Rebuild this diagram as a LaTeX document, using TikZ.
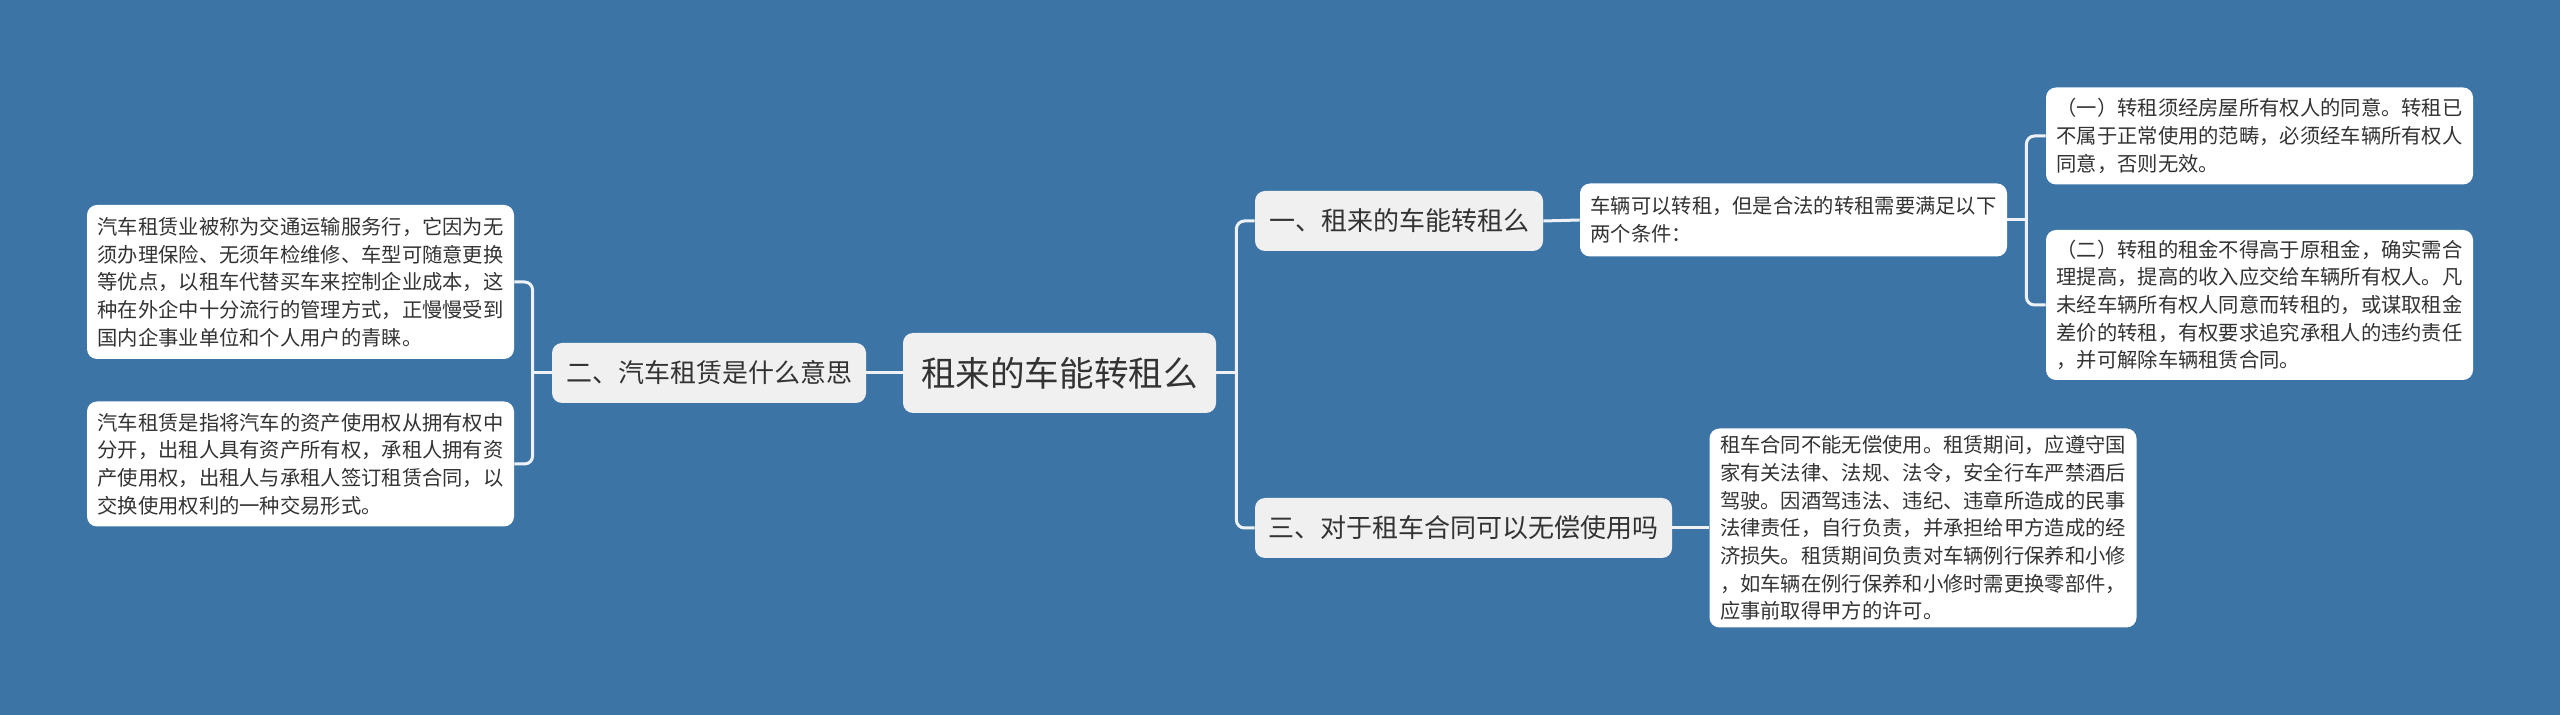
\documentclass[tikz,border=0pt]{standalone}
\usepackage{fontspec}
\newfontfamily\cjk{Noto Sans CJK SC}
\definecolor{bgblue}{HTML}{3D74A6}
\definecolor{subfill}{HTML}{F0F0F0}
\definecolor{txt}{HTML}{333333}
\definecolor{linec}{HTML}{EEF2F6}
\tikzset{
  box/.style={rounded corners=5pt, inner sep=0pt, text=txt, anchor=center},
  rootbox/.style={box, fill=subfill, minimum width=156.5pt, minimum height=40pt, font=\cjk\fontsize{17.3}{20}\selectfont},
  subbox/.style={box, fill=subfill, minimum height=30pt, font=\cjk\fontsize{13}{16}\selectfont},
  leafbox/.style={box, fill=white, minimum width=213.5pt, align=left, font=\cjk\fontsize{10.15}{13.85}\selectfont},
  conn/.style={draw=linec, line width=1.5pt},
  elbow/.style={conn, rounded corners=4pt}
}
\begin{document}
\begin{tikzpicture}[x=0.5pt,y=-0.5pt]
\fill[bgblue] (0,0) rectangle (2560,715);
\useasboundingbox (0,0) rectangle (2560,715);

\node[rootbox] (root) at (1059.5,373) {租来的车能转租么};

\node[subbox, minimum width=157pt] (ls) at (709,373) {二、汽车租赁是什么意思};
\node[leafbox, minimum height=77pt] (l1) at (300.5,282) {汽车租赁业被称为交通运输服务行，它因为无\\须办理保险、无须年检维修、车型可随意更换\\等优点，以租车代替买车来控制企业成本，这\\种在外企中十分流行的管理方式，正慢慢受到\\国内企事业单位和个人用户的青睐。};
\node[leafbox, minimum height=62.5pt] (l2) at (300.5,464) {汽车租赁是指将汽车的资产使用权从拥有权中\\分开，出租人具有资产所有权，承租人拥有资\\产使用权，出租人与承租人签订租赁合同，以\\交换使用权利的一种交易形式。};

\node[subbox, minimum width=144pt] (r1) at (1399,221) {一、租来的车能转租么};
\node[leafbox, minimum height=36.5pt] (r1c) at (1793.5,220) {车辆可以转租，但是合法的转租需要满足以下\\两个条件：};
\node[leafbox, minimum height=48.5pt] (a1) at (2259.5,136) {（一）转租须经房屋所有权人的同意。转租已\\不属于正常使用的范畴，必须经车辆所有权人\\同意，否则无效。};
\node[leafbox, minimum height=75pt] (a2) at (2259.5,305) {（二）转租的租金不得高于原租金，确实需合\\理提高，提高的收入应交给车辆所有权人。凡\\未经车辆所有权人同意而转租的，或谋取租金\\差价的转租，有权要求追究承租人的违约责任\\，并可解除车辆租赁合同。};

\node[subbox, minimum width=208.5pt] (r3) at (1463.5,528) {三、对于租车合同可以无偿使用吗};
\node[leafbox, minimum height=99.5pt] (r3c) at (1923,528) {租车合同不能无偿使用。租赁期间，应遵守国\\家有关法律、法规、法令，安全行车严禁酒后\\驾驶。因酒驾违法、违纪、违章所造成的民事\\法律责任，自行负责，并承担给甲方造成的经\\济损失。租赁期间负责对车辆例行保养和小修\\，如车辆在例行保养和小修时需更换零部件，\\应事前取得甲方的许可。};

% left side
\draw[conn] (root.west) -- (ls.east);
\coordinate (lsp) at ([xshift=-9.5pt]ls.west);
\draw[conn] (ls.west) -- (lsp);
\draw[elbow] (lsp) |- (l1.east);
\draw[elbow] (lsp) |- (l2.east);

% right side
\coordinate (rsp) at ([xshift=10pt]root.east);
\draw[conn] (root.east) -- (rsp);
\draw[elbow] (rsp) |- (r1.west);
\draw[elbow] (rsp) |- (r3.west);

\draw[conn] (r1.east) -- (r1c.west);
\coordinate (csp) at ([xshift=9.5pt]r1c.east);
\draw[conn] (r1c.east) -- (csp);
\draw[elbow] (csp) |- (a1.west);
\draw[elbow] (csp) |- (a2.west);

\draw[conn] (r3.east) -- (r3c.west);
\end{tikzpicture}
\end{document}
